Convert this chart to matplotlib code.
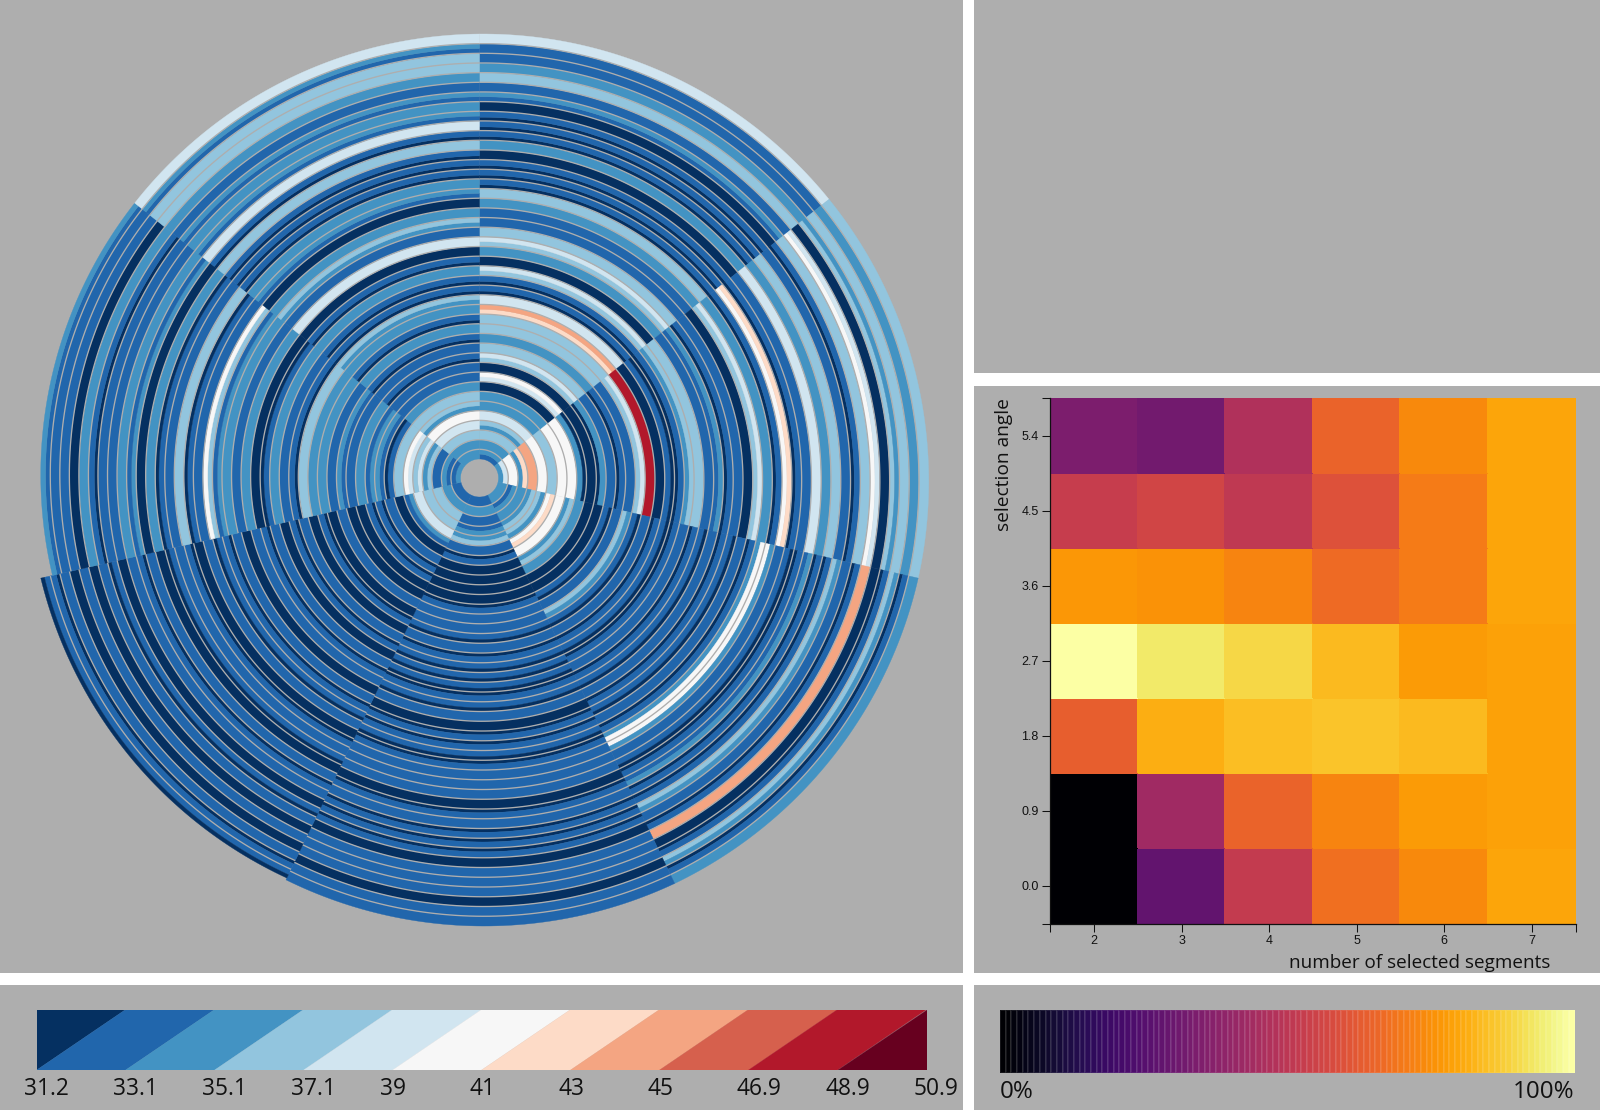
import numpy as np
import matplotlib
matplotlib.use("Agg")
import matplotlib.pyplot as plt
from matplotlib.collections import PolyCollection, LineCollection

W, H = 1600, 1110
BG = "#aeaeae"
UI_FONT = "Open Sans"

# class colours of the left legend and its labels
legend_colors = ["#053061", "#2166ac", "#4393c3", "#92c5de", "#d1e5f0", "#f7f7f7",
                 "#fddbc7", "#f4a582", "#d6604d", "#b2182b", "#67001f"]
legend_labels = ["31.2", "33.1", "35.1", "37.1", "39", "41", "43", "45", "46.9", "48.9", "50.9"]

# Spiral rings per sector, inner to outer. Each token is a class of legend_colors;
# two digits give the inner and the outer part of one ring.
sector0 = "12 2 3 23 4 2 2 0 45 0 34 3 2 3 3 67 4 01 01 34 0 2 34 3 1 1 2 3 01 01 01 0 2 01 01 01 0 12 1 3 2 1 1 4".split()
sector1 = "24 5 26 7 5 3 5 5 20 0 02 1 01 1 34 9 0 10 01 23 3 1 12 01 1 0 34 2 01 56 01 1 4 2 3 1 01 3 54 0 32 3 2 3".split()
sector2 = "2 12 2 23 32 56 5 23 2 0 0 10 1 32 10 1 01 10 01 1 01 10 1 01 10 1 01 25 52 1 10 01 12 01 01 32 1 01 7 0 01 32 01 2".split()
sector3 = "1 2 1 12 23 1 01 0 0 0 0 01 1 1 10 1 01 10 10 10 01 10 1 0 01 01 10 01 1 1 1 0 01 1 01 01 01 0 1 1 1 0 1 1".split()
sector4 = "1 2 3 3 4 21 0 1 01 01 0 0 1 0 01 0 1 01 0 1 01 1 0 1 01 10 1 0 01 1 10 0 1 01 1 0 10 1 0 1 0 1 01 10".split()
sector5 = "21 12 1 32 43 45 3 10 12 21 2 1 12 1 2 2 3 01 1 2 10 0 2 1 2 21 35 1 10 3 1 10 2 0 21 2 1 1 01 2 0 1 1 12".split()
sector6 = "2 2 3 4 5 23 3 2 1 1 01 1 01 2 01 2 23 01 01 2 01 0 4 1 23 2 0 12 2 01 01 01 3 01 4 12 2 12 1 2 3 3 12 4".split()
sectors = [sector0, sector1, sector2, sector3, sector4, sector5, sector6]
outer_start = [444, 447, 450, 450, 444, 438, 441]
outer_end = [447, 450, 450, 446, 450, 441, 444]
inner_radius = 19

# heatmap: share of explained pattern (percent)
heat_x = [2, 3, 4, 5, 6, 7]
heat_y = [0.0, 0.9, 1.8, 2.7, 3.6, 4.5, 5.4]
heat_0_0 = [0, 28, 52, 68, 74, 80]
heat_0_9 = [0, 43, 65, 73, 78, 79]
heat_1_8 = [64, 82, 85, 86, 84, 79]
heat_2_7 = [100, 94, 90, 84, 78, 79]
heat_3_6 = [77, 76, 73, 67, 71, 80]
heat_4_5 = [53, 56, 51, 60, 71, 80]
heat_5_4 = [34, 32, 47, 65, 74, 80]
heat_rows = [heat_0_0, heat_0_9, heat_1_8, heat_2_7, heat_3_6, heat_4_5, heat_5_4]


def px_axes(fig, x0, y0, x1, y1, **kw):
    return fig.add_axes([x0 / W, 1 - y1 / H, (x1 - x0) / W, (y1 - y0) / H], **kw)


def panel(fig, x0, y0, x1, y1):
    ax = px_axes(fig, x0, y0, x1, y1)
    ax.set_facecolor(BG)
    ax.set_xticks([]); ax.set_yticks([])
    for s in ax.spines.values():
        s.set_visible(False)
    return ax


fig = plt.figure(figsize=(W / 100, H / 100), dpi=100, facecolor="white")

# spiral panel
ax = panel(fig, 0, 0, 962.5, 973)
cx, cy = 479.5, 478
ax.set_xlim(-cx, 962.5 - cx)
ax.set_ylim(973 - cy, -cy)
polys, cols, lines = [], [], []
nsec = len(sectors)
for s, rings in enumerate(sectors):
    th = np.radians(np.linspace(s, s + 1, 60) * 360 / nsec)
    outer = np.linspace(outer_start[s], outer_end[s], th.size)
    n = len(rings)
    rad = lambda k: inner_radius + (outer - inner_radius) * k / n
    pts = lambda r: np.column_stack([r * np.sin(th), -r * np.cos(th)])
    for k, tok in enumerate(rings):
        parts = [int(c) for c in tok]
        weights = np.array([0.62 if (c == 0 and len(parts) > 1) else 1.0 for c in parts])
        edges = np.concatenate([[0], np.cumsum(weights) / weights.sum()])
        for j, c in enumerate(parts):
            a, b = pts(rad(k + edges[j])), pts(rad(k + edges[j + 1]))
            polys.append(np.vstack([a, b[::-1]]))
            cols.append(legend_colors[c])
        if k > 0:
            lines.append(pts(rad(k)))
ax.add_collection(PolyCollection(polys, facecolors=cols, edgecolors=cols, linewidths=0.25))
ax.add_collection(LineCollection(lines, colors="#aeaeae", linewidths=0.95))

# empty top right panel
panel(fig, 974.5, 0, W, 373)

# heatmap panel
panel(fig, 974.5, 385.5, W, 973)
hax = px_axes(fig, 1050.4, 398, 1575.5, 923.5)
hax.patch.set_visible(False)
xe = np.arange(len(heat_x) + 1) + heat_x[0] - 0.5
ye = (np.arange(len(heat_y) + 1) - 0.5) * (heat_y[1] - heat_y[0])
hax.pcolormesh(xe, ye, np.array(heat_rows), cmap="inferno", vmin=0, vmax=100,
               edgecolors="face", linewidth=0.2)
hax.set_xlim(xe[0], xe[-1]); hax.set_ylim(ye[0], ye[-1])
hax.set_xticks(heat_x); hax.set_yticks(heat_y)
hax.set_yticklabels([f"{v:.1f}" for v in heat_y])
hax.set_xticks(xe[[0, -1]], minor=True); hax.set_yticks(ye[[0, -1]], minor=True)
hax.tick_params(which="both", length=5.5, width=0.75, color="#111111", labelsize=9,
                labelcolor="#111111", pad=3)
for lab in hax.get_xticklabels() + hax.get_yticklabels():
    lab.set_fontfamily("Liberation Sans")
hax.spines["top"].set_visible(False); hax.spines["right"].set_visible(False)
for s in ("left", "bottom"):
    hax.spines[s].set_linewidth(0.9); hax.spines[s].set_color("#111111")
fig.text(1550 / W, 1 - 968 / H, "number of selected segments", ha="right", va="baseline",
         fontsize=13.6, family=UI_FONT, color="#111111")
fig.text(1004 / W, 1 - 398 / H, "selection angle", ha="center", va="top", rotation=90,
         fontsize=13.8, family=UI_FONT, color="#111111")

# left legend
panel(fig, 0, 985, 962.5, H)
lax = px_axes(fig, 36.7, 1009.5, 926.5, 1070)
lax.set_xlim(0, len(legend_labels) - 1); lax.set_ylim(0, 1)
lax.axis("off")
nl = len(legend_colors)
for i, c in enumerate(legend_colors):
    top0, top1 = min(i, nl - 1), min(i + 1, nl - 1)
    bot0, bot1 = max(i - 1, 0), i
    lax.fill([top0, top1, bot1, bot0], [1, 1, 0, 0], color=c, lw=0.2)
for i, t in enumerate(legend_labels):
    lax.annotate(t, (i, 0), xytext=(-12.5, -25), textcoords="offset pixels", ha="left",
                 va="baseline", fontsize=16.4, family=UI_FONT, color="#111111", annotation_clip=False)

# right legend
panel(fig, 974.5, 985, W, H)
gax = px_axes(fig, 1000, 1010, 1574.5, 1072.7)
pct = np.arange(0, 101)
gax.pcolormesh(np.arange(pct.size + 1), [0, 1], pct[None, :], cmap="inferno", vmin=0, vmax=100,
               edgecolors="#ffffff16", linewidth=0.1)
gax.axis("off")
fig.text(1000 / W, 1 - 1098 / H, "0%", ha="left", va="baseline", fontsize=17.4, family=UI_FONT, color="#111111")
fig.text(1574.5 / W, 1 - 1098 / H, "100%", ha="right", va="baseline", fontsize=17.4, family=UI_FONT, color="#111111")

fig.savefig("out.png", dpi=100, facecolor="white")
